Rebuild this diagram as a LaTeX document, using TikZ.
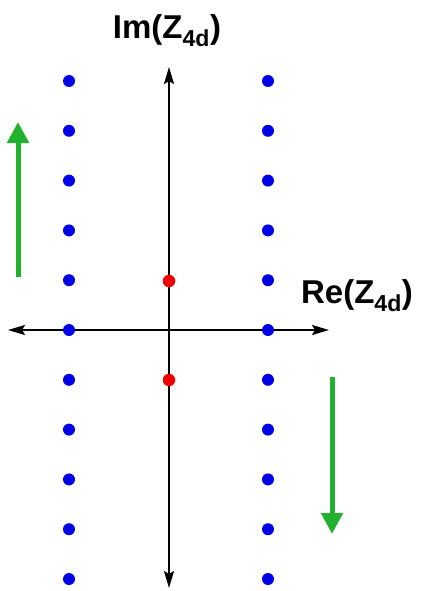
\documentclass[tikz,border=0pt]{standalone}
\usepackage{fontspec}
\setmainfont{Liberation Sans}
\usetikzlibrary{arrows.meta}
\begin{document}
\begin{tikzpicture}[x=1pt,y=-1pt,
  axis/.style={line width=1.9pt,-{Stealth[length=17pt,width=10pt,inset=3pt]}},
  greenarrow/.style={draw={rgb,255:red,34;green,177;blue,46},line width=5pt,-{Triangle[length=21pt,width=21pt]},
    color={rgb,255:red,34;green,177;blue,46}},
  bluedot/.style={circle,fill={rgb,255:red,0;green,0;blue,230},inner sep=0pt,minimum size=12pt},
  reddot/.style={circle,fill={rgb,255:red,240;green,0;blue,0},inner sep=0pt,minimum size=12.5pt},
  lab/.style={font=\bfseries\fontsize{33}{34}\selectfont,inner sep=0pt}]
\useasboundingbox (0,0) rectangle (420,591);
% axes
\coordinate (vb) at (169,588);
\coordinate (vt) at (169,67);
\coordinate (hl) at (8,330);
\coordinate (hr) at (329,330);
\coordinate (vmid) at (169,330);
\draw[axis] (vmid) -- (vt);
\draw[axis] (vmid) -- (vb);
\draw[axis] (vmid) -- (hl);
\draw[axis] (vmid) -- (hr);
% dots
\foreach \i in {0,...,10}{
  \node[bluedot] (l\i) at (69,{81+49.8*\i}) {};
  \node[bluedot] (r\i) at (268,{81+49.8*\i}) {};
}
\node[reddot] (p1) at (169,281) {};
\node[reddot] (p2) at (169,380) {};
% green arrows
\coordinate (ga1) at (18,277);
\coordinate (ga2) at (18,122);
\coordinate (gb1) at (332,377);
\coordinate (gb2) at (332,534);
\draw[greenarrow] (ga1) -- (ga2);
\draw[greenarrow] (gb1) -- (gb2);
% labels
\node[lab] (im) at (167,31) {Im(Z\textsubscript{4d})};
\node[lab] (re) at (357,296) {Re(Z\textsubscript{4d})};
\end{tikzpicture}
\end{document}
